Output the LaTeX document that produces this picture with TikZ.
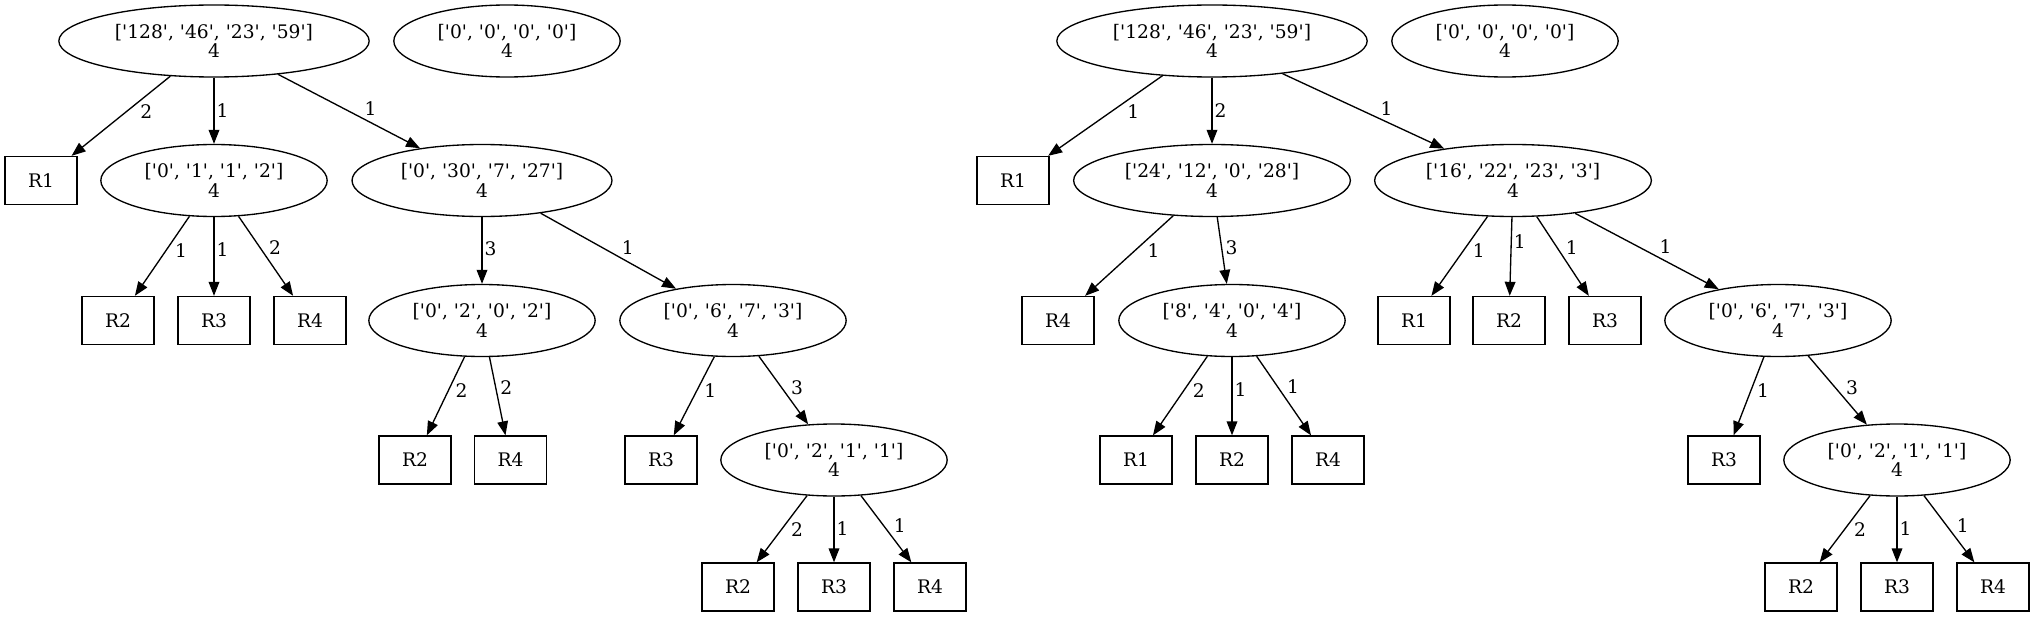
\documentclass[tikz,border=0pt]{standalone}
\usepackage{fontspec}
\setmainfont{DejaVu Serif}[Ligatures=TeXOff]
\usetikzlibrary{shapes.geometric,arrows.meta}

\begin{document}
\begin{tikzpicture}[x=0.75pt,y=-0.75pt,
        font=\fontsize{14pt}{14.5pt}\selectfont,
        state/.style={ellipse,draw,line width=1pt,inner xsep=8pt,inner ysep=2pt,minimum height=54pt,align=center},
        leaf/.style={rectangle,draw,line width=1pt,minimum width=54pt,minimum height=36pt,inner sep=0pt},
        edge/.style={line width=1pt,-{Triangle[length=10.5pt,width=8pt]}},
        lbl/.style={auto,inner sep=1.5pt}]
    \useasboundingbox (0,0) rectangle (2035,617);

    % left tree
    \node[state] (a0) at (214,41) {['128', '46', '23', '59']\\4};
    \node[state] (az) at (507,41) {['0', '0', '0', '0']\\4};
    \node[leaf] (aR1) at (41,180.5) {R1};
    \node[state] (a1) at (214,180.5) {['0', '1', '1', '2']\\4};
    \node[state] (a2) at (482,180.5) {['0', '30', '7', '27']\\4};
    \node[leaf] (a1R2) at (118,320.5) {R2};
    \node[leaf] (a1R3) at (214,320.5) {R3};
    \node[leaf] (a1R4) at (310,320.5) {R4};
    \node[state] (a3) at (482,320.5) {['0', '2', '0', '2']\\4};
    \node[state] (a4) at (733,320.5) {['0', '6', '7', '3']\\4};
    \node[leaf] (a3R2) at (415,460) {R2};
    \node[leaf] (a3R4) at (510.5,460) {R4};
    \node[leaf] (a4R3) at (661,460) {R3};
    \node[state] (a5) at (834,460) {['0', '2', '1', '1']\\4};
    \node[leaf] (a5R2) at (738,587) {R2};
    \node[leaf] (a5R3) at (834,587) {R3};
    \node[leaf] (a5R4) at (930,587) {R4};

    \draw[edge] (a0) -- node[lbl,pos=.33] {2} (aR1);
    \draw[edge] (a0) -- node[lbl,pos=.5] {1} (a1);
    \draw[edge] (a0) -- node[lbl,pos=.59] {1} (a2);
    \draw[edge] (a1) -- node[lbl,pos=.31] {1} (a1R2);
    \draw[edge] (a1) -- node[lbl,pos=.41] {1} (a1R3);
    \draw[edge] (a1) -- node[lbl,pos=.51] {2} (a1R4);
    \draw[edge] (a2) -- node[lbl,pos=.48] {3} (a3);
    \draw[edge] (a2) -- node[lbl,pos=.58] {1} (a4);
    \draw[edge] (a3) -- node[lbl,pos=.31] {2} (a3R2);
    \draw[edge] (a3) -- node[lbl,pos=.51] {2} (a3R4);
    \draw[edge] (a4) -- node[lbl,pos=.31] {1} (a4R3);
    \draw[edge] (a4) -- node[lbl,pos=.6] {3} (a5);
    \draw[edge] (a5) -- node[lbl,pos=.37] {2} (a5R2);
    \draw[edge] (a5) -- node[lbl,pos=.48] {1} (a5R3);
    \draw[edge] (a5) -- node[lbl,pos=.6] {1} (a5R4);

    % right tree
    \node[state] (b0) at (1212,41) {['128', '46', '23', '59']\\4};
    \node[state] (bz) at (1505,41) {['0', '0', '0', '0']\\4};
    \node[leaf] (bR1) at (1013,180.5) {R1};
    \node[state] (b1) at (1212,180.5) {['24', '12', '0', '28']\\4};
    \node[state] (b2) at (1513,180.5) {['16', '22', '23', '3']\\4};
    \node[leaf] (b1R4) at (1058,320.5) {R4};
    \node[state] (b3) at (1232,320.5) {['8', '4', '0', '4']\\4};
    \node[leaf] (b2R1) at (1414,320.5) {R1};
    \node[leaf] (b2R2) at (1509,320.5) {R2};
    \node[leaf] (b2R3) at (1605,320.5) {R3};
    \node[state] (b4) at (1778,320.5) {['0', '6', '7', '3']\\4};
    \node[leaf] (b3R1) at (1136,460) {R1};
    \node[leaf] (b3R2) at (1232,460) {R2};
    \node[leaf] (b3R4) at (1328,460) {R4};
    \node[leaf] (b4R3) at (1724,460) {R3};
    \node[state] (b5) at (1897,460) {['0', '2', '1', '1']\\4};
    \node[leaf] (b5R2) at (1801,587) {R2};
    \node[leaf] (b5R3) at (1897,587) {R3};
    \node[leaf] (b5R4) at (1993,587) {R4};

    \draw[edge] (b0) -- node[lbl,pos=.33] {1} (bR1);
    \draw[edge] (b0) -- node[lbl,pos=.5] {2} (b1);
    \draw[edge] (b0) -- node[lbl,pos=.59] {1} (b2);
    \draw[edge] (b1) -- node[lbl,pos=.32] {1} (b1R4);
    \draw[edge] (b1) -- node[lbl,pos=.6] {3} (b3);
    \draw[edge] (b2) -- node[lbl,pos=.31] {1} (b2R1);
    \draw[edge] (b2) -- node[lbl,pos=.31] {1} (b2R2);
    \draw[edge] (b2) -- node[lbl,pos=.51] {1} (b2R3);
    \draw[edge] (b2) -- node[lbl,pos=.57] {1} (b4);
    \draw[edge] (b3) -- node[lbl,pos=.315] {2} (b3R1);
    \draw[edge] (b3) -- node[lbl,pos=.41] {1} (b3R2);
    \draw[edge] (b3) -- node[lbl,pos=.51] {1} (b3R4);
    \draw[edge] (b4) -- node[lbl,pos=.31] {1} (b4R3);
    \draw[edge] (b4) -- node[lbl,pos=.6] {3} (b5);
    \draw[edge] (b5) -- node[lbl,pos=.37] {2} (b5R2);
    \draw[edge] (b5) -- node[lbl,pos=.48] {1} (b5R3);
    \draw[edge] (b5) -- node[lbl,pos=.6] {1} (b5R4);
\end{tikzpicture}
\end{document}
